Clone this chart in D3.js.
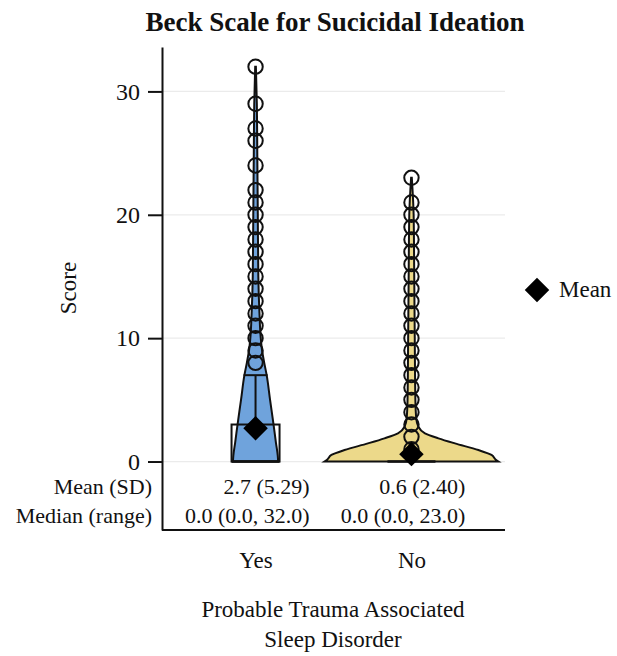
<!DOCTYPE html>
<html>
<head>
<meta charset="utf-8">
<script src="https://cdn.jsdelivr.net/npm/d3@7"></script>
<style>
  body { margin: 0; background: #fff; }
  text { font-family: "Liberation Serif", "Times New Roman", serif; fill: #111; }
</style>
</head>
<body>
<svg width="617" height="656"></svg>
<script>
// data
const groups = ["Yes", "No"];
const means = [2.7, 0.6];
const sds = [5.29, 2.40];
const medians = [0, 0];
const mins = [0, 0];
const maxs = [32, 23];
const q1s = [0, 0];
const q3s = [3, 0];
const whiskerHi = [7, 0];
const yesOutliers = [8, 9, 10, 11, 12, 13, 14, 15, 16, 17, 18, 19, 20, 21, 22, 24, 26, 27, 29, 32];
const noOutliers = [1, 2, 3, 4, 5, 6, 7, 8, 9, 10, 11, 12, 13, 14, 15, 16, 17, 18, 19, 20, 21, 23];
// violin half-width (relative density) by score
const yesDensity = [[0, 0.26], [0.5, 0.255], [1.5, 0.235], [3, 0.207], [5, 0.167], [7, 0.128], [8, 0.1], [9, 0.075], [10, 0.06], [12, 0.045], [15, 0.032], [20, 0.026], [25, 0.02], [29, 0.015], [32, 0.004]];
const noDensity = [[0, 1.0], [0.15, 0.97], [0.53, 0.92], [0.93, 0.77], [1.47, 0.5], [1.88, 0.31], [2.28, 0.155], [2.82, 0.08], [3.5, 0.055], [5, 0.045], [10, 0.038], [15, 0.032], [20, 0.025], [23, 0.004]];
const yTicks = [0, 10, 20, 30];
const statLabels = ["Mean (SD)", "Median (range)"];

const svg = d3.select("svg");
const plotLeft = 162, plotRight = 505, plotTop = 47, plotBottom = 530;

const y = d3.scaleLinear().domain([-5.55, 33.6]).range([plotBottom, plotTop]);
const x = d3.scalePoint().domain(groups).range([plotLeft, plotRight]).padding(0.6);
const w = d3.scaleLinear().domain([0, 1]).range([0, 87]);
const fills = ["#6fa3dc", "#ecd98a"];
const boxHalf = 24, capHalf = 12;

// title
svg.append("text").attr("x", 335).attr("y", 31).attr("text-anchor", "middle")
  .style("font-size", "27px").style("font-weight", "bold")
  .text("Beck Scale for Sucicidal Ideation");

// grid
svg.append("g").selectAll("line").data(yTicks).enter().append("line")
  .attr("x1", plotLeft).attr("x2", plotRight)
  .attr("y1", d => y(d)).attr("y2", d => y(d))
  .attr("stroke", "#ebebeb").attr("stroke-width", 1.2);

// violins
const densities = [yesDensity, noDensity];
groups.forEach(function(g, i) {
  const cx = x(g);
  const area = d3.area()
    .y(d => y(d[0]))
    .x0(d => cx - w(d[1]))
    .x1(d => cx + w(d[1]))
    .curve(d3.curveMonotoneY);
  svg.append("path").datum(densities[i])
    .attr("d", area)
    .attr("fill", fills[i]).attr("stroke", "#111").attr("stroke-width", 2);
});

// boxes
groups.forEach(function(g, i) {
  const cx = x(g);
  const bx = svg.append("g");
  if (q3s[i] > q1s[i]) {
    bx.append("rect").attr("x", cx - boxHalf).attr("width", boxHalf * 2)
      .attr("y", y(q3s[i])).attr("height", y(q1s[i]) - y(q3s[i]))
      .attr("fill", "none").attr("stroke", "#111").attr("stroke-width", 2);
  }
  bx.append("line").attr("x1", cx - boxHalf).attr("x2", cx + boxHalf)
    .attr("y1", y(medians[i])).attr("y2", y(medians[i]))
    .attr("stroke", "#111").attr("stroke-width", 2.5);
  if (whiskerHi[i] > q3s[i]) {
    bx.append("line").attr("x1", cx).attr("x2", cx)
      .attr("y1", y(q3s[i])).attr("y2", y(whiskerHi[i]))
      .attr("stroke", "#111").attr("stroke-width", 2);
    bx.append("line").attr("x1", cx - capHalf).attr("x2", cx + capHalf)
      .attr("y1", y(whiskerHi[i])).attr("y2", y(whiskerHi[i]))
      .attr("stroke", "#111").attr("stroke-width", 2);
  }
});

// outlier points
[yesOutliers, noOutliers].forEach(function(pts, i) {
  svg.append("g").selectAll("circle").data(pts).enter().append("circle")
    .attr("cx", x(groups[i])).attr("cy", d => y(d)).attr("r", 7.2)
    .attr("fill", "none").attr("stroke", "#111").attr("stroke-width", 2);
});

// means
const diamond = d3.symbol(d3.symbolSquare, 300);
svg.append("g").selectAll("path").data(means).enter().append("path")
  .attr("d", diamond)
  .attr("transform", (d, i) => "translate(" + x(groups[i]) + "," + y(d) + ") rotate(45)")
  .attr("fill", "#000");

// axes
const yAxis = d3.axisLeft(y).tickValues(yTicks).tickSize(14).tickSizeOuter(0).tickPadding(8);
const gy = svg.append("g").attr("transform", "translate(" + plotLeft + ",0)").call(yAxis);
gy.selectAll("text").style("font-size", "24px").style("font-family", "Liberation Serif, serif");
gy.selectAll("line, path").attr("stroke", "#111").attr("stroke-width", 2);

const xAxis = d3.axisBottom(x).tickSize(0).tickSizeOuter(0).tickPadding(22);
const gx = svg.append("g").attr("transform", "translate(0," + plotBottom + ")").call(xAxis);
gx.select(".domain").attr("d", "M" + plotLeft + ",0H" + plotRight);
gx.selectAll("text").style("font-size", "23px").style("font-family", "Liberation Serif, serif").attr("dy", "0.71em");
gx.selectAll("line, path").attr("stroke", "#111").attr("stroke-width", 2);

// stats table
statLabels.forEach(function(lab, r) {
  svg.append("text").attr("x", 152).attr("y", 494 + r * 29).attr("text-anchor", "end")
    .style("font-size", "22px").text(lab);
});
groups.forEach(function(g, i) {
  const rows = [means[i].toFixed(1) + " (" + sds[i].toFixed(2) + ")",
    medians[i].toFixed(1) + " (" + mins[i].toFixed(1) + ", " + maxs[i].toFixed(1) + ")"];
  rows.forEach(function(t, r) {
    svg.append("text").attr("x", x(g) + 54).attr("y", 494 + r * 29).attr("text-anchor", "end")
      .style("font-size", "22px").text(t);
  });
});

// axis titles
svg.append("text").attr("transform", "translate(76,288) rotate(-90)").attr("text-anchor", "middle")
  .style("font-size", "23px").text("Score");
svg.append("text").attr("x", 333).attr("y", 617).attr("text-anchor", "middle")
  .style("font-size", "23px").text("Probable Trauma Associated");
svg.append("text").attr("x", 333).attr("y", 647).attr("text-anchor", "middle")
  .style("font-size", "23px").text("Sleep Disorder");

// legend
svg.append("path").attr("d", diamond).attr("transform", "translate(537,290) rotate(45)").attr("fill", "#000");
svg.append("text").attr("x", 559).attr("y", 297).style("font-size", "23px").text("Mean");
</script>
</body>
</html>
